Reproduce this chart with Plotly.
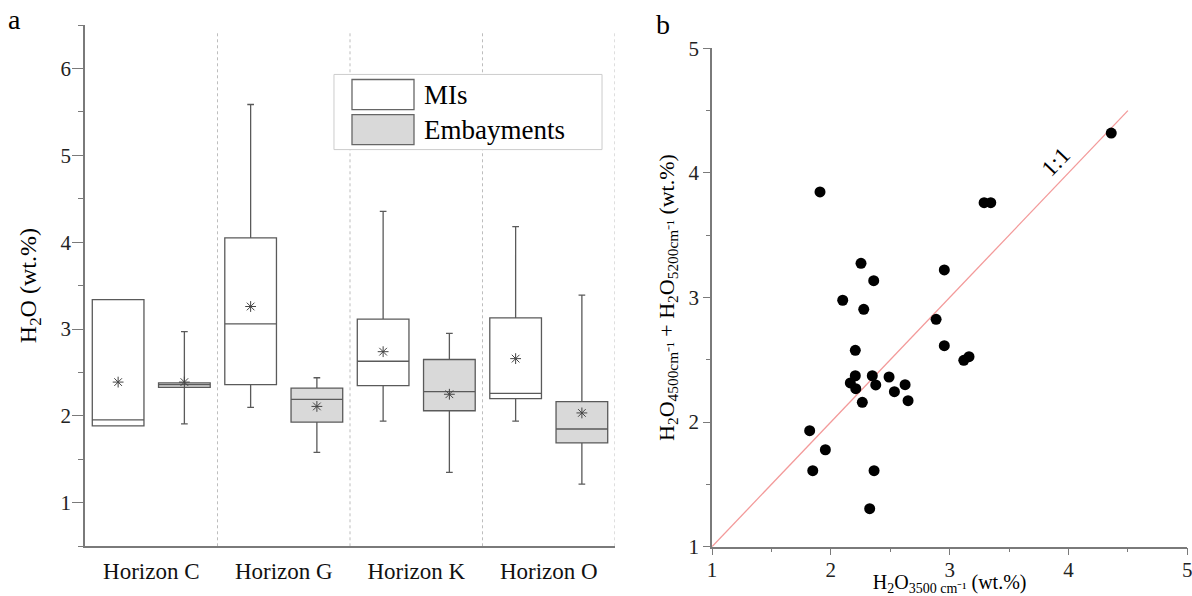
import numpy as np
import plotly.graph_objects as go

# ---------------- data: panel a (box statistics, wt.%) ----------------
horizons = ["Horizon C", "Horizon G", "Horizon K", "Horizon O"]

mi_lower = [1.885, 2.10, 1.94, 1.94]
mi_q1 = [1.885, 2.36, 2.35, 2.20]
mi_median = [1.955, 3.06, 2.63, 2.26]
mi_q3 = [3.34, 4.05, 3.115, 3.13]
mi_upper = [3.34, 5.585, 4.355, 4.18]
mi_mean = [2.39, 3.26, 2.74, 2.66]

emb_lower = [1.91, 1.58, 1.35, 1.215]
emb_q1 = [2.33, 1.93, 2.06, 1.69]
emb_median = [2.36, 2.19, 2.28, 1.85]
emb_q3 = [2.38, 2.32, 2.65, 2.165]
emb_upper = [2.97, 2.44, 2.95, 3.39]
emb_mean = [2.39, 2.11, 2.25, 2.035]

# ---------------- data: panel b (scatter, wt.%) ----------------
h2o_3500 = [1.909, 3.290, 3.346, 2.254, 2.361, 2.955, 2.100, 2.277, 2.886, 2.955,
            3.119, 3.163, 2.206, 2.206, 2.349, 2.490, 2.164, 2.210, 2.378, 2.625,
            2.535, 2.650, 2.265, 1.822, 1.954, 1.848, 2.364, 2.327, 4.360]
h2o_sum = [3.847, 3.761, 3.761, 3.274, 3.135, 3.221, 2.978, 2.905, 2.825, 2.613,
           2.496, 2.525, 2.576, 2.372, 2.372, 2.362, 2.314, 2.268, 2.298, 2.300,
           2.244, 2.172, 2.159, 1.931, 1.778, 1.610, 1.610, 1.305, 4.320]
line_1to1 = [1.0, 4.5]

FONT = "Liberation Serif, Times New Roman, serif"
AX = "#7a7a7a"
BOX_LINE = "#5a5a5a"

fig = go.Figure()

grp = np.arange(1, len(horizons) + 1)
off = 0.25
bw = 0.39

fig.add_trace(go.Box(
    x=grp - off, q1=mi_q1, median=mi_median, q3=mi_q3,
    lowerfence=mi_lower, upperfence=mi_upper, width=bw,
    fillcolor="white", line=dict(color=BOX_LINE, width=1.3),
    whiskerwidth=0.13, boxpoints=False, showlegend=False,
    xaxis="x", yaxis="y"))
fig.add_trace(go.Box(
    x=grp + off, q1=emb_q1, median=emb_median, q3=emb_q3,
    lowerfence=emb_lower, upperfence=emb_upper, width=bw,
    fillcolor="#d9d9d9", line=dict(color=BOX_LINE, width=1.3),
    whiskerwidth=0.13, boxpoints=False, showlegend=False,
    xaxis="x", yaxis="y"))
fig.add_trace(go.Scatter(
    x=np.concatenate([grp - off, grp + off]), y=mi_mean + emb_mean,
    mode="markers",
    marker=dict(symbol="asterisk-open", size=9, color="#444",
                line=dict(color="#444", width=1)),
    showlegend=False, xaxis="x", yaxis="y"))

# panel b
fig.add_trace(go.Scatter(
    x=line_1to1, y=line_1to1, mode="lines",
    line=dict(color="#f39a9a", width=1.3), showlegend=False,
    xaxis="x2", yaxis="y2"))
fig.add_trace(go.Scatter(
    x=h2o_3500, y=h2o_sum, mode="markers",
    marker=dict(color="black", size=11), showlegend=False,
    xaxis="x2", yaxis="y2"))

shapes = []
for s in [1.5, 2.5, 3.5, 4.5]:
    shapes.append(dict(type="line", xref="x", yref="y", x0=s, x1=s, y0=0.5, y1=6.42,
                       line=dict(color="#bdbdbd", width=1, dash="dot"), layer="below"))
# legend (panel a)
shapes.append(dict(type="rect", xref="x", yref="y", x0=2.379, x1=4.402, y0=5.066, y1=5.931,
                   line=dict(color="#cccccc", width=1), fillcolor="white", layer="above"))
shapes.append(dict(type="rect", xref="x", yref="y", x0=2.515, x1=2.983, y0=5.527, y1=5.873,
                   line=dict(color="#666666", width=1.3), fillcolor="white", layer="above"))
shapes.append(dict(type="rect", xref="x", yref="y", x0=2.515, x1=2.983, y0=5.123, y1=5.469,
                   line=dict(color="#666666", width=1.3), fillcolor="#d9d9d9", layer="above"))

annotations = [
    dict(text="MIs", x=3.04, y=5.70, xref="x", yref="y", xanchor="left", yanchor="middle",
         showarrow=False, font=dict(family=FONT, size=27, color="black")),
    dict(text="Embayments", x=3.04, y=5.296, xref="x", yref="y", xanchor="left", yanchor="middle",
         showarrow=False, font=dict(family=FONT, size=27, color="black")),
    dict(text="1:1", x=3.887, y=4.087, xref="x2", yref="y2", textangle=-46,
         showarrow=False, font=dict(family=FONT, size=23, color="black")),
    dict(text="a", x=15 / 1192, y=1 - 20 / 596, xref="paper", yref="paper",
         xanchor="center", yanchor="middle", showarrow=False,
         font=dict(family=FONT, size=28, color="black")),
    dict(text="b", x=663 / 1192, y=1 - 25 / 596, xref="paper", yref="paper",
         xanchor="center", yanchor="middle", showarrow=False,
         font=dict(family=FONT, size=28, color="black")),
]

fig.update_layout(
    template="none",
    width=1192, height=596, autosize=False,
    margin=dict(l=0, r=0, t=0, b=0, pad=0),
    paper_bgcolor="white", plot_bgcolor="white",
    font=dict(family=FONT, color="#222"),
    boxmode="overlay", showlegend=False,
    shapes=shapes, annotations=annotations,
    xaxis=dict(domain=[85 / 1192, 615 / 1192], range=[0.5, 4.5], automargin=False,
               tickvals=list(grp), ticktext=horizons, ticks="",
               tickfont=dict(family=FONT, size=23, color="#111"),
               ticklabelstandoff=3,
               showline=True, linecolor=AX, linewidth=1.5,
               showgrid=False, zeroline=False, anchor="y"),
    yaxis=dict(domain=[49.7 / 596, 571 / 596], range=[0.5, 6.5], automargin=False,
               tickvals=[1, 2, 3, 4, 5, 6], ticks="outside", ticklen=11,
               tickcolor=AX, tickwidth=1.3,
               minor=dict(dtick=0.5, ticks="outside", ticklen=5, tickcolor=AX, tickwidth=1.3,
                          showgrid=False),
               tickfont=dict(family=FONT, size=21, color="#222"),
               ticklabelstandoff=-3,
               showline=True, linecolor=AX, linewidth=1.5,
               showgrid=False, zeroline=False, anchor="x",
               title=dict(text="H<sub>2</sub>O (wt.%)", standoff=17,
                          font=dict(family=FONT, size=24, color="black"))),
    xaxis2=dict(domain=[712 / 1192, 1187.3 / 1192], range=[1, 5], automargin=False,
                tickvals=[1, 2, 3, 4, 5], ticks="outside", ticklen=7,
                tickcolor=AX, tickwidth=1.3, ticklabeloverflow="allow",
                ticklabelstandoff=-4,
                minor=dict(dtick=0.5, ticks="outside", ticklen=4, tickcolor=AX, tickwidth=1.3,
                           showgrid=False),
                tickfont=dict(family=FONT, size=21, color="#222"),
                showline=True, linecolor=AX, linewidth=1.5,
                showgrid=False, zeroline=False, anchor="y2",
                title=dict(text="H<sub>2</sub>O<sub>3500 cm⁻¹</sub> (wt.%)", standoff=13,
                           font=dict(family=FONT, size=20, color="black"))),
    yaxis2=dict(domain=[49.3 / 596, (596 - 48.3) / 596], range=[1, 5], automargin=False,
                tickvals=[1, 2, 3, 4, 5], ticks="outside", ticklen=7,
                tickcolor=AX, tickwidth=1.3, ticklabeloverflow="allow",
                minor=dict(dtick=0.5, ticks="outside", ticklen=4, tickcolor=AX, tickwidth=1.3,
                           showgrid=False),
                tickfont=dict(family=FONT, size=21, color="#222"),
                showline=True, linecolor=AX, linewidth=1.5,
                showgrid=False, zeroline=False, anchor="x2",
                title=dict(text="H<sub>2</sub>O<sub>4500cm⁻¹</sub> + H<sub>2</sub>O<sub>5200cm⁻¹</sub> (wt.%)",
                           standoff=8, font=dict(family=FONT, size=22, color="black"))),
)

fig.write_html("out.html")
